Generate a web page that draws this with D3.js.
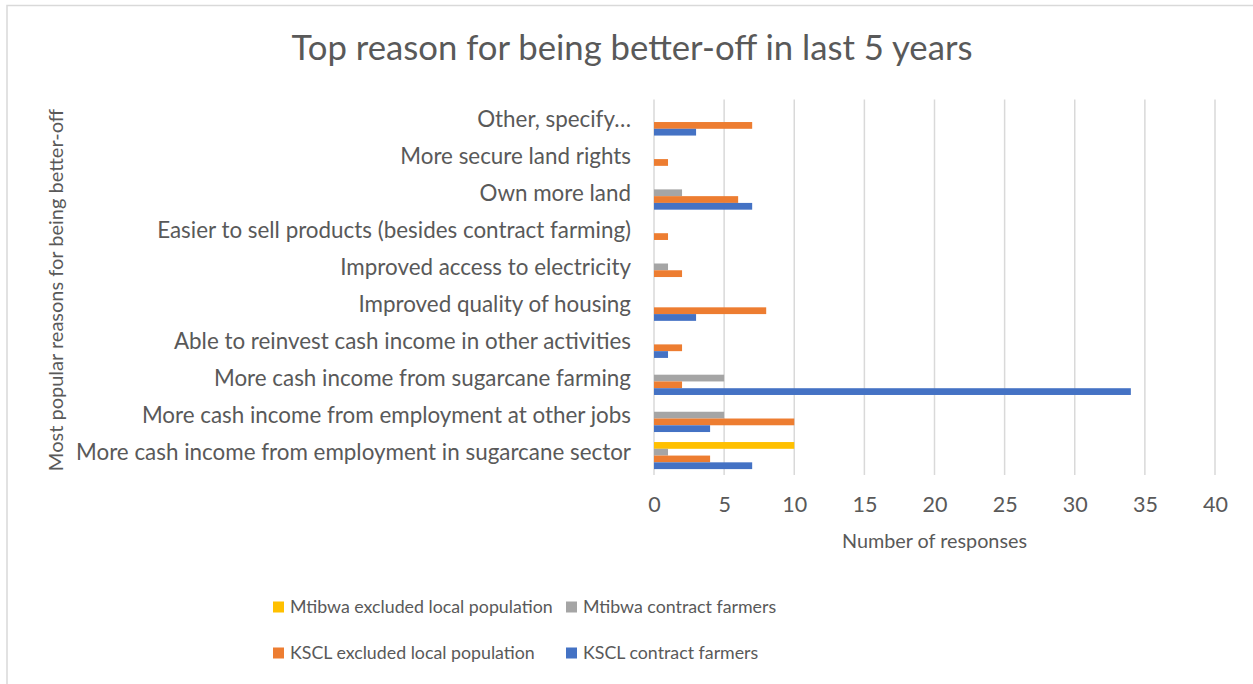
<!DOCTYPE html>
<html>
<head>
<meta charset="utf-8">
<script src="https://cdn.jsdelivr.net/npm/d3@7"></script>
<style>
  body { margin: 0; background: #fff; }
  svg { display: block; }
</style>
</head>
<body>
<div id="chart"></div>
<script>
// Categories, top to bottom as shown
const categories = [
  "Other, specify…",
  "More secure land rights",
  "Own more land",
  "Easier to sell products (besides contract farming)",
  "Improved access to electricity",
  "Improved quality of housing",
  "Able to reinvest cash income in other activities",
  "More cash income from sugarcane farming",
  "More cash income from employment at other jobs",
  "More cash income from employment in sugarcane sector"
];

// Series values (same order as categories)
const mtibwaExcluded = [0, 0, 0, 0, 0, 0, 0, 0, 0, 10];
const mtibwaContract = [0, 0, 2, 0, 1, 0, 0, 5, 5, 1];
const ksclExcluded   = [7, 1, 6, 1, 2, 8, 2, 2, 10, 4];
const ksclContract   = [3, 0, 7, 0, 0, 3, 1, 34, 4, 7];

const seriesNames = ["Mtibwa excluded local population", "Mtibwa contract farmers",
                     "KSCL excluded local population", "KSCL contract farmers"];
const seriesValues = [mtibwaExcluded, mtibwaContract, ksclExcluded, ksclContract];
const colors = ["#FFC000", "#A5A5A5", "#ED7D31", "#4472C4"];
const xTicks = [0, 5, 10, 15, 20, 25, 30, 35, 40];

const W = 1253, H = 684;
const plot = { left: 654, right: 1215, top: 103.5, bottom: 474.1 };
const font = "Lato, 'Open Sans', sans-serif";
const textColor = "#595959";

const svg = d3.select("#chart")
  .append("svg")
    .attr("width", W)
    .attr("height", H)
    .style("font-family", font);

// chart border (only top and left visible in the crop)
svg.append("path")
  .attr("d", `M7,${H} V5.5 H${W}`)
  .attr("fill", "none")
  .attr("stroke", "#D9D9D9")
  .attr("stroke-width", 1.5);

// Title
svg.append("text")
  .attr("x", 632)
  .attr("y", 60)
  .attr("text-anchor", "middle")
  .attr("fill", textColor)
  .style("font-size", "34.7px")
  .text("Top reason for being better-off in last 5 years");

// Scales
const x = d3.scaleLinear()
  .domain([0, 40])
  .range([plot.left, plot.right]);

const y0 = d3.scaleBand()
  .domain(categories)
  .range([plot.top, plot.bottom])
  .paddingInner(0.27)
  .paddingOuter(0.135);

const y1 = d3.scaleBand()
  .domain(seriesNames)
  .range([0, y0.bandwidth()]);

// Gridlines
svg.append("g")
  .selectAll("line")
  .data(xTicks)
  .join("line")
    .attr("x1", d => x(d))
    .attr("x2", d => x(d))
    .attr("y1", plot.top - 4)
    .attr("y2", plot.bottom + 1)
    .attr("stroke", "#D9D9D9")
    .attr("stroke-width", 1.5);

// X axis tick labels
const xAxis = svg.append("g")
  .attr("transform", `translate(0,${plot.bottom})`)
  .call(d3.axisBottom(x).tickValues(xTicks).tickSize(0).tickPadding(23));
xAxis.select(".domain").remove();
xAxis.selectAll("text")
  .attr("fill", textColor)
  .style("font-family", font)
  .style("font-size", "21.5px");

// Y axis category labels
const yAxis = svg.append("g")
  .attr("transform", `translate(${plot.left},0)`)
  .call(d3.axisLeft(y0).tickSize(0).tickPadding(23));
yAxis.select(".domain").remove();
yAxis.selectAll("text")
  .attr("fill", textColor)
  .attr("dy", "0.2em")
  .style("font-family", font)
  .style("font-size", "22.4px");

// Bars
const rows = categories.map((c, i) => ({
  cat: c,
  vals: seriesNames.map((s, j) => ({ series: s, value: seriesValues[j][i], color: colors[j] }))
}));

svg.append("g")
  .selectAll("g")
  .data(rows)
  .join("g")
    .attr("transform", d => `translate(0,${y0(d.cat)})`)
  .selectAll("rect")
  .data(d => d.vals.filter(v => v.value > 0))
  .join("rect")
    .attr("x", x(0))
    .attr("y", d => y1(d.series))
    .attr("width", d => x(d.value) - x(0))
    .attr("height", y1.bandwidth())
    .attr("fill", d => d.color);

// Axis titles
svg.append("text")
  .attr("x", (plot.left + plot.right) / 2)
  .attr("y", 548)
  .attr("text-anchor", "middle")
  .attr("fill", textColor)
  .style("font-size", "19.8px")
  .text("Number of responses");

svg.append("text")
  .attr("transform", "rotate(-90)")
  .attr("x", -290)
  .attr("y", 63)
  .attr("text-anchor", "middle")
  .attr("fill", textColor)
  .style("font-size", "20px")
  .text("Most popular reasons for being better-off");

// Legend
const legendPos = [
  { x: 273, y: 607 }, { x: 566, y: 607 },
  { x: 273, y: 653 }, { x: 566, y: 653 }
];
const legend = svg.append("g")
  .selectAll("g")
  .data(seriesNames)
  .join("g")
    .attr("transform", (d, i) => `translate(${legendPos[i].x},${legendPos[i].y})`);
legend.append("rect")
  .attr("x", 0)
  .attr("y", -5.5)
  .attr("width", 11)
  .attr("height", 11)
  .attr("fill", (d, i) => colors[i]);
legend.append("text")
  .attr("x", 17)
  .attr("y", 0)
  .attr("dy", "0.35em")
  .attr("fill", textColor)
  .style("font-size", "17.8px")
  .text(d => d);
</script>
</body>
</html>
